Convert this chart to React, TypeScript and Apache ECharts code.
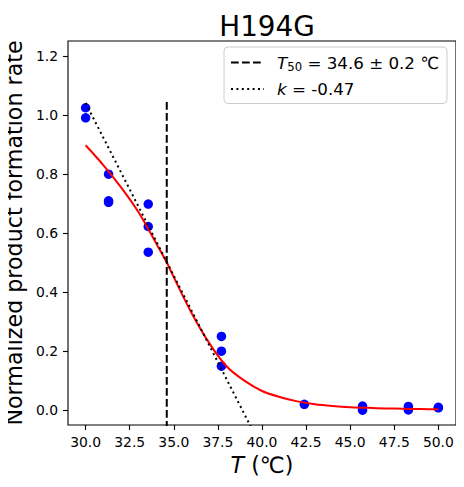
import React, { useEffect, useRef } from "react";
import * as echarts from "echarts";

const FONT = "DejaVu Sans";

// measured points (temperature °C, normalized rate)
const pointTemps = [30, 30, 31.3, 31.3, 31.3, 33.55, 33.55, 33.55, 37.7, 37.7, 37.7, 42.4, 45.7, 45.7, 48.3, 48.3, 50, 50];
const pointRates = [1.024, 0.99, 0.799, 0.709, 0.704, 0.698, 0.622, 0.535, 0.25, 0.2, 0.149, 0.02, 0.014, 0.0, 0.013, 0.001, 0.01, 0.008];

// fitted curve
const fitTemps = [30, 31, 32, 33, 34, 34.6, 35, 36, 37, 38, 39, 40, 41, 42, 43, 44, 45, 46, 47, 48, 49, 50];
const fitRates = [0.897, 0.83, 0.755, 0.67, 0.565, 0.5, 0.45, 0.33, 0.228, 0.148, 0.1, 0.065, 0.045, 0.03, 0.02, 0.014, 0.01, 0.008, 0.006, 0.005, 0.004, 0.003];

// T50 vertical marker
const t50 = 34.6;
const t50Span = [-0.1, 1.05];

// slope line
const slopeTemps = [30, 40];
const slopeRates = [1.04, -0.13];

const xTicks = [30, 32.5, 35, 37.5, 40, 42.5, 45, 47.5, 50];
const yTicks = [0, 0.2, 0.4, 0.6, 0.8, 1.0, 1.2];

export default function App() {
  const ref = useRef<HTMLDivElement>(null);
  useEffect(() => {
    if (!ref.current) return;
    const chart = echarts.init(ref.current, null, { renderer: "svg" });
    const tickStyle = { show: true, inside: false, length: 5, lineStyle: { color: "#000", width: 1.1 } };
    chart.setOption({
      animation: false,
      textStyle: { fontFamily: FONT },
      title: {
        text: "H194G",
        left: 262,
        textAlign: "center",
        top: 7,
        textStyle: { fontFamily: FONT, fontSize: 27.8, fontWeight: "normal", color: "#000" },
      },
      grid: {
        left: 68,
        right: 8,
        top: 41,
        bottom: 62,
        containLabel: false,
        outerBoundsMode: "none",
        show: true,
        borderColor: "#000",
        borderWidth: 1.1,
        backgroundColor: "transparent",
      },
      xAxis: {
        type: "value",
        min: 29,
        max: 51,
        name: "{i|T} (℃)",
        nameLocation: "middle",
        nameGap: 28,
        nameTextStyle: {
          fontFamily: FONT,
          fontSize: 22.2,
          color: "#000",
          rich: { i: { fontStyle: "italic", fontFamily: FONT, fontSize: 22.2, color: "#000" } },
        },
        axisLine: { show: false, onZero: false },
        splitLine: { show: false },
        axisTick: { ...tickStyle, customValues: xTicks },
        axisLabel: {
          customValues: xTicks,
          margin: 10,
          fontFamily: FONT,
          fontSize: 13.9,
          color: "#000",
          formatter: (v: number) => v.toFixed(1),
        },
      },
      yAxis: {
        type: "value",
        min: -0.05,
        max: 1.25,
        name: "Normalized product formation rate",
        nameLocation: "middle",
        nameGap: 41,
        nameTextStyle: { fontFamily: FONT, fontSize: 22.2, color: "#000" },
        axisLine: { show: false, onZero: false },
        splitLine: { show: false },
        axisTick: { ...tickStyle, customValues: yTicks },
        axisLabel: {
          customValues: yTicks,
          margin: 10,
          fontFamily: FONT,
          fontSize: 13.9,
          color: "#000",
          formatter: (v: number) => v.toFixed(1),
        },
      },
      legend: {
        orient: "vertical",
        right: 17,
        top: 47,
        data: ["T50", "k"],
        itemWidth: 33,
        itemHeight: 14,
        itemGap: 8,
        padding: [7, 8, 6, 6],
        borderColor: "#cccccc",
        borderWidth: 1,
        borderRadius: 4,
        backgroundColor: "rgba(255,255,255,0.8)",
        selectedMode: false,
        itemStyle: { opacity: 0 },
        formatter: (name: string) =>
          name === "T50" ? "{i|T}{s|50} = 34.6 ± 0.2 ℃" : "{i|k} = -0.47",
        textStyle: {
          fontFamily: FONT,
          fontSize: 16.7,
          color: "#000",
          padding: [0, 0, 0, 8],
          rich: {
            i: { fontStyle: "italic", fontFamily: FONT, fontSize: 16.7, color: "#000" },
            s: { fontFamily: FONT, fontSize: 11.7, color: "#000", padding: [8, 0, 0, 0] },
          },
        },
      },
      series: [
        {
          type: "scatter",
          name: "points",
          data: pointTemps.map((t, i) => [t, pointRates[i]]),
          symbolSize: 9.5,
          itemStyle: { color: "#0000ff", opacity: 1 },
          z: 2,
        },
        {
          type: "line",
          name: "fit",
          data: fitTemps.map((t, i) => [t, fitRates[i]]),
          smooth: 0.3,
          showSymbol: false,
          symbol: "none",
          lineStyle: { color: "#ff0000", width: 2 },
          z: 3,
        },
        {
          type: "line",
          name: "T50",
          data: t50Span.map((r) => [t50, r]),
          symbol: "none",
          lineStyle: { color: "#000", width: 2, type: [7.7, 3.3] },
          itemStyle: { color: "#000" },
          z: 4,
        },
        {
          type: "line",
          name: "k",
          data: slopeTemps.map((t, i) => [t, slopeRates[i]]),
          symbol: "none",
          lineStyle: { color: "#000", width: 2, type: [2, 3.4] },
          itemStyle: { color: "#000" },
          z: 5,
        },
      ],
    });
    return () => chart.dispose();
  }, []);
  return <div ref={ref} style={{ width: 464, height: 487, margin: -8 }} />;
}
